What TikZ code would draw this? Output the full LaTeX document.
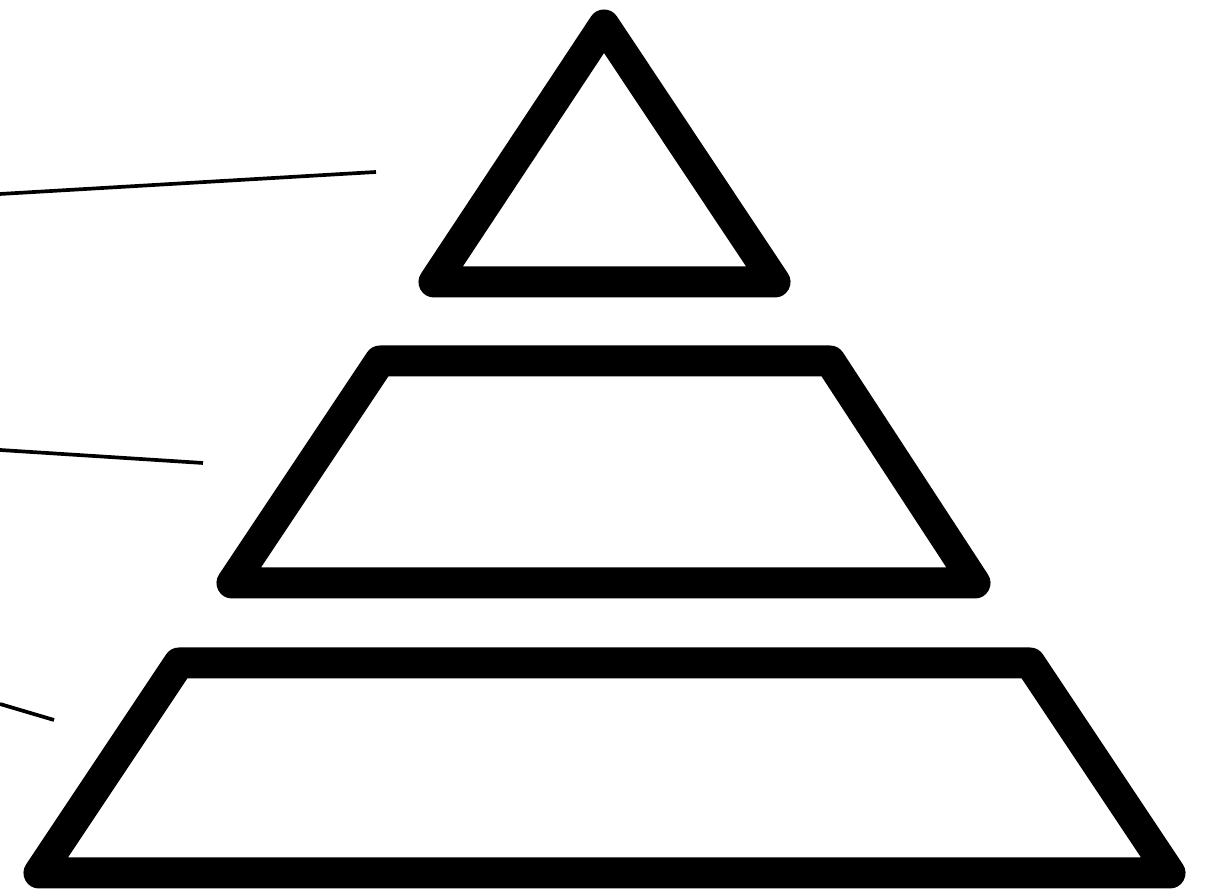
\documentclass[tikz,border=0pt]{standalone}
\usepackage{tikz}

\begin{document}
\begin{tikzpicture}[
    tier/.style={
        draw=black,
        line width=0.62cm,
        line join=round
    },
    leader/.style={
        draw=black,
        line width=2.1pt
    }
]

\fill[white] (0,0) rectangle (24.24,17.82);
\useasboundingbox (0,0) rectangle (24.24,17.82);

% top tier
\coordinate (topapex) at (12.08,17.32);
\coordinate (topleft) at (8.68,12.18);
\coordinate (topright) at (15.50,12.18);

% middle tier
\coordinate (midtl) at (7.60,10.60);
\coordinate (midtr) at (16.60,10.60);
\coordinate (midbr) at (19.50,6.16);
\coordinate (midbl) at (4.64,6.16);

% bottom tier
\coordinate (bottl) at (3.58,4.56);
\coordinate (bottr) at (20.60,4.56);
\coordinate (botbr) at (23.40,0.36);
\coordinate (botbl) at (0.78,0.36);

\draw[tier] (topapex) -- (topright) -- (topleft) -- cycle;
\draw[tier] (midtl) -- (midtr) -- (midbr) -- (midbl) -- cycle;
\draw[tier] (bottl) -- (bottr) -- (botbr) -- (botbl) -- cycle;

% leader lines
\coordinate (topstart) at (0,13.94);
\coordinate (topend) at (7.52,14.38);
\coordinate (midstart) at (0,8.82);
\coordinate (midend) at (4.06,8.56);
\coordinate (botstart) at (0,3.74);
\coordinate (botend) at (1.08,3.42);

\draw[leader] (topstart) -- (topend);
\draw[leader] (midstart) -- (midend);
\draw[leader] (botstart) -- (botend);

\end{tikzpicture}
\end{document}
